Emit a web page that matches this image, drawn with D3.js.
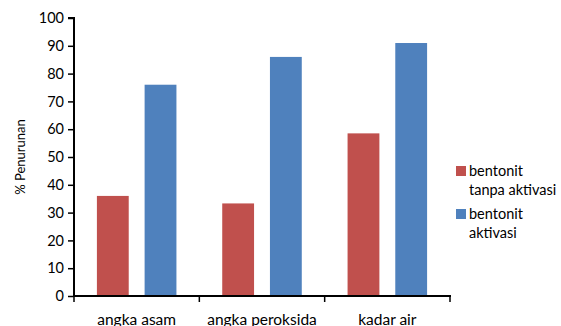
<!DOCTYPE html>
<html>
<head>
<meta charset="utf-8">
<script src="https://cdn.jsdelivr.net/npm/d3@7"></script>
<style>
  html, body { margin: 0; padding: 0; background: #fff; }
  svg { display: block; font-family: Lato, "Open Sans", sans-serif; }
</style>
</head>
<body>
<svg id="chart" width="561" height="326"></svg>
<script>
// Categories and series values (% Penurunan)
const categories = ["angka asam", "angka peroksida", "kadar air"];
const seriesNames = ["bentonit tanpa aktivasi", "bentonit aktivasi"];
const tanpaAktivasi = [36, 33.3, 58.5];
const aktivasi = [76, 86, 91];
const yTicks = [0, 10, 20, 30, 40, 50, 60, 70, 80, 90, 100];
const legendLines = [["bentonit", "tanpa aktivasi"], ["bentonit", "aktivasi"]];
const colors = ["#C0504D", "#4F81BD"];

const svg = d3.select("#chart");
const plotLeft = 74, plotRight = 450, plotTop = 18, plotBottom = 296;

const x0 = d3.scaleBand().domain(categories).range([plotLeft, plotRight]).paddingInner(0).paddingOuter(0);
const x1 = d3.scaleBand().domain(seriesNames).range([0, x0.bandwidth()]).paddingInner(0.333).paddingOuter(0.48);
const y = d3.scaleLinear().domain([0, 100]).range([plotBottom, plotTop]);

const series = [tanpaAktivasi, aktivasi];

// Bars
series.forEach((vals, si) => {
  svg.append("g").selectAll("rect").data(categories).join("rect")
    .attr("x", d => x0(d) + x1(seriesNames[si]))
    .attr("y", (d, i) => y(vals[i]))
    .attr("width", x1.bandwidth())
    .attr("height", (d, i) => y(0) - y(vals[i]))
    .attr("fill", colors[si]);
});

// Y axis
const yAxis = svg.append("g").attr("transform", `translate(${plotLeft},0)`)
  .call(d3.axisLeft(y).tickValues(yTicks).tickSize(6).tickPadding(4).tickFormat(d3.format("d")));
yAxis.select(".domain").attr("stroke", "#000").attr("stroke-width", 2).attr("d", `M-6,${plotTop}H0V${plotBottom}`);
yAxis.selectAll(".tick line").attr("stroke", "#000").attr("stroke-width", 1.5);
yAxis.selectAll(".tick text").attr("font-size", 14.5).attr("fill", "#000").attr("font-family", "Lato, sans-serif");

// X axis with ticks at category boundaries
const xg = svg.append("g");
xg.append("line").attr("x1", plotLeft - 1).attr("x2", plotRight + 1).attr("y1", plotBottom).attr("y2", plotBottom)
  .attr("stroke", "#000").attr("stroke-width", 2);
const boundaries = categories.map(c => x0(c)).concat([x0(categories[categories.length - 1]) + x0.bandwidth()]);
xg.selectAll("line.t").data(boundaries).join("line").attr("class", "t")
  .attr("x1", d => d).attr("x2", d => d).attr("y1", plotBottom).attr("y2", plotBottom + 6)
  .attr("stroke", "#000").attr("stroke-width", 1.5);
xg.selectAll("text").data(categories).join("text")
  .attr("x", d => x0(d) + x0.bandwidth() / 2)
  .attr("y", 325)
  .attr("text-anchor", "middle")
  .attr("font-size", 15.5)
  .attr("fill", "#000")
  .text(d => d);

// Y axis title
svg.append("text")
  .attr("transform", "translate(25,157) rotate(-90)")
  .attr("text-anchor", "middle")
  .attr("font-size", 13)
  .attr("fill", "#000")
  .text("% Penurunan");

// Legend
const lg = svg.append("g");
legendLines.forEach((lines, i) => {
  const yb = 176 + i * 43;
  lg.append("rect").attr("x", 456).attr("y", yb - 10).attr("width", 10).attr("height", 10).attr("fill", colors[i]);
  lines.forEach((t, j) => {
    lg.append("text").attr("x", 469).attr("y", yb + j * 19)
      .attr("font-size", 14.5).attr("fill", "#000").text(t);
  });
});
</script>
</body>
</html>
